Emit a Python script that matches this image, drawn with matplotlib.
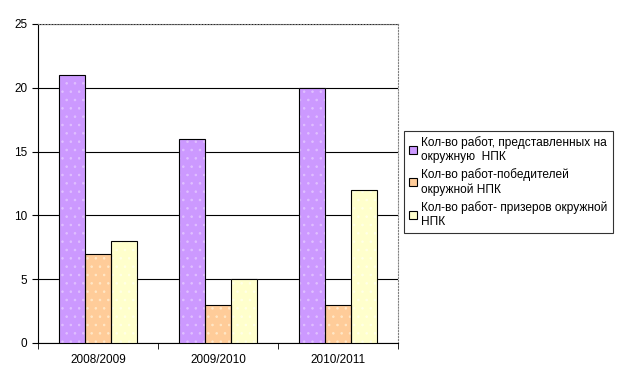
import numpy as np
import matplotlib
matplotlib.use('Agg')
import matplotlib.pyplot as plt

plt.rcParams['font.family'] = ['Liberation Sans', 'DejaVu Sans']
plt.rcParams['hatch.linewidth'] = 0.6

# данные
years = ['2008/2009', '2009/2010', '2010/2011']
predstavleno = [21, 16, 20]
pobediteli = [7, 3, 3]
prizery = [8, 5, 12]
labels = ['Кол-во работ, представленных на\nокружную  НПК',
          'Кол-во работ-победителей\nокружной НПК',
          'Кол-во работ- призеров окружной\nНПК']

fig = plt.figure(figsize=(6.23, 3.87), dpi=100)
ax = fig.add_axes([0.061, 0.114, 0.578, 0.824])

x = np.arange(len(years))
w = 0.215
ax.bar(x - w, predstavleno, w, color='#CC99FF', edgecolor='black', linewidth=0.8,
       hatch='..', label=labels[0], zorder=3)
ax.bar(x, pobediteli, w, color='#FFCC99', edgecolor='black', linewidth=0.8,
       hatch='..', label=labels[1], zorder=3)
ax.bar(x + w, prizery, w, color='#FFFFCC', edgecolor='black', linewidth=0.8,
       hatch='..', label=labels[2], zorder=3)
# цвет точек штриховки
for c, hc in zip(ax.containers, ['#E0C0FF', '#FFE8C8', '#FFFFE8']):
    for p in c:
        p.set_edgecolor(hc)
# контур столбиков
for c in ax.containers:
    for p in c:
        ax.add_patch(plt.Rectangle(p.get_xy(), p.get_width(), p.get_height(),
                                   fill=False, edgecolor='black', linewidth=0.8, zorder=4))

ax.set_xlim(-0.5, 2.5)
ax.set_ylim(0, 25)
ax.set_yticks([0, 5, 10, 15, 20, 25])
ax.set_xticks(x)
ax.set_xticklabels(years)
ax.set_xticks([-0.5, 0.5, 1.5, 2.5], minor=True)
ax.tick_params(axis='x', which='major', length=0, pad=8, labelsize=8.5)
ax.tick_params(axis='x', which='minor', length=4, direction='out')
ax.tick_params(axis='y', length=4, direction='out', labelsize=8.5)
ax.yaxis.grid(True, color='black', linewidth=0.8, zorder=0)
ax.set_axisbelow(True)

ax.spines['top'].set_linestyle(':')
ax.spines['top'].set_color('gray')
ax.spines['right'].set_linestyle(':')
ax.spines['right'].set_color('gray')

leg = fig.legend(loc='upper left', bbox_to_anchor=(0.648, 0.662), fontsize=8.6,
                 frameon=True, fancybox=False, edgecolor='black',
                 handlelength=0.7, handleheight=0.7, handletextpad=0.3,
                 borderpad=0.45, labelspacing=0.45, borderaxespad=0)
for h, col in zip(leg.legend_handles, ['#CC99FF', '#FFCC99', '#FFFFCC']):
    h.set_hatch(None)
    h.set_facecolor(col)
    h.set_edgecolor('black')
leg.get_frame().set_linewidth(0.8)

fig.savefig('out.png', dpi=100)
